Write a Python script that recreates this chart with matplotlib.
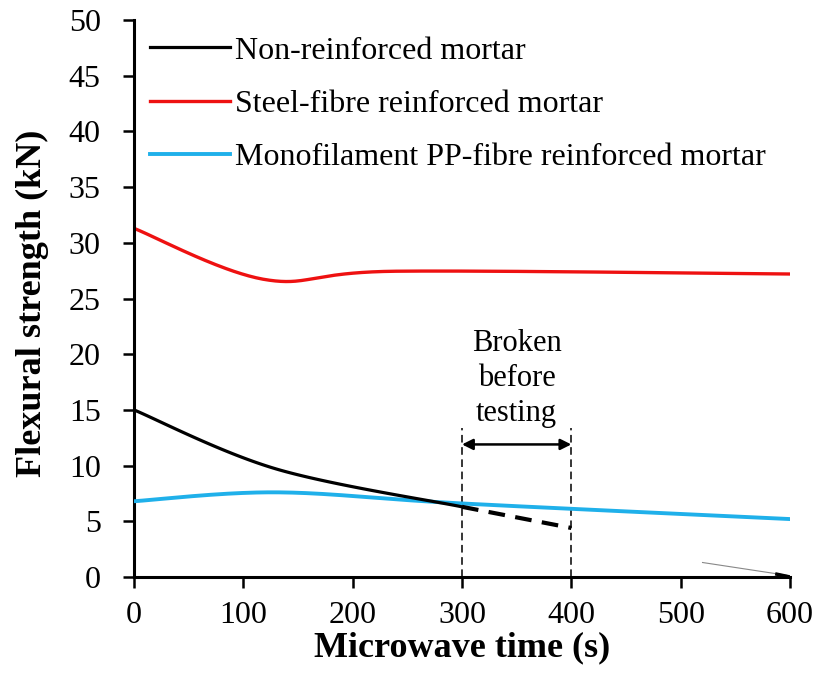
import numpy as np
import matplotlib
matplotlib.use("Agg")
import matplotlib.pyplot as plt

plt.rcParams['font.family'] = ['Liberation Serif', 'DejaVu Serif']

# Measured flexural strength (kN) against microwave exposure time (s)
time_plain = [0, 130, 300]
strength_plain = [15.0, 9.7, 6.3]
time_plain_broken = [300, 400]
strength_plain_broken = [6.3, 4.4]

time_steel = [0, 120, 240, 600]
strength_steel = [31.3, 26.7, 27.45, 27.2]

time_pp = [0, 130, 300, 600]
strength_pp = [6.8, 7.6, 6.6, 5.2]

x_ticks = [0, 100, 200, 300, 400, 500, 600]
y_ticks = [0, 5, 10, 15, 20, 25, 30, 35, 40, 45, 50]

broken_start, broken_end = 300, 400


def smooth(xs, ys, n=60):
    """Cardinal-spline smoothing through the points (spreadsheet style)."""
    xs = np.asarray(xs, float)
    ys = np.asarray(ys, float)
    px = np.concatenate([[xs[0]], xs, [xs[-1]]])
    py = np.concatenate([[ys[0]], ys, [ys[-1]]])
    out_x, out_y = [], []
    for i in range(1, len(px) - 2):
        p0 = np.array([px[i], py[i]])
        p3 = np.array([px[i + 1], py[i + 1]])
        c1 = p0 + (np.array([px[i + 1], py[i + 1]]) - np.array([px[i - 1], py[i - 1]])) / 6
        c2 = p3 - (np.array([px[i + 2], py[i + 2]]) - np.array([px[i], py[i]])) / 6
        t = np.linspace(0, 1, n)[:, None]
        pts = ((1 - t) ** 3) * p0 + 3 * ((1 - t) ** 2) * t * c1 + 3 * (1 - t) * t ** 2 * c2 + t ** 3 * p3
        out_x.extend(pts[:, 0])
        out_y.extend(pts[:, 1])
    return np.array(out_x), np.array(out_y)


fig = plt.figure(figsize=(8.19, 6.91), dpi=100)
ax = fig.add_axes([0.1636, 0.165, 0.801, 0.806])

sx, sy = smooth(time_plain, strength_plain)
ax.plot(sx, sy, color='black', lw=2.3, label='Non-reinforced mortar', zorder=4)
ax.plot(time_plain_broken, strength_plain_broken, color='black', lw=3,
        ls=(0, (4, 2.5)), zorder=4)

sx, sy = smooth(time_steel, strength_steel)
ax.plot(sx, sy, color='#ee1111', lw=2.4, label='Steel-fibre reinforced mortar')

sx, sy = smooth(time_pp, strength_pp)
ax.plot(sx, sy, color='#1fb0ea', lw=2.8,
        label='Monofilament PP-fibre reinforced mortar', zorder=3)

# faint trace toward zero at the end of the test period
ax.plot([520, 597], [1.3, 0.15], color='#888888', lw=0.8)
ax.plot([588, 600], [0.25, 0.0], color='black', lw=2.5)

# "broken before testing" bracket
ax.vlines([broken_start, broken_end], 0, 13.4, colors='black', lw=1.1,
          linestyles=(0, (5, 3)))
ax.annotate('', xy=(broken_start, 11.9), xytext=(broken_end, 11.9),
            arrowprops=dict(arrowstyle='<|-|>', color='black', lw=1.8,
                            mutation_scale=16, shrinkA=0, shrinkB=0))
ax.text((broken_start + broken_end) / 2, 17.8, 'Broken\nbefore\ntesting',
        ha='center', va='center', fontsize=22, linespacing=1.27)

ax.set_xlim(0, 600)
ax.set_ylim(0, 50)
ax.set_xticks(x_ticks)
ax.set_yticks(y_ticks)
ax.tick_params(labelsize=23, direction='out', length=8, width=1.8)
ax.tick_params(axis='y', pad=16)
ax.tick_params(axis='x', pad=9)
for s in ['top', 'right']:
    ax.spines[s].set_visible(False)
for s in ['left', 'bottom']:
    ax.spines[s].set_linewidth(2.2)

ax.set_xlabel('Microwave time (s)', fontsize=26, fontweight='bold')
ax.xaxis.set_label_coords(0.5, -0.128)
ax.xaxis.label.set_va('center')
ax.set_ylabel('Flexural strength (kN)', fontsize=26, fontweight='bold')
ax.yaxis.set_label_coords(-0.154, 0.492)
ax.yaxis.label.set_va('center')

ax.legend(loc='upper left', bbox_to_anchor=(-0.01, 1.011), frameon=False,
          fontsize=23, handlelength=2.5, handletextpad=0.18, labelspacing=0.75,
          borderaxespad=0.3)

fig.savefig('out.png', dpi=100)
